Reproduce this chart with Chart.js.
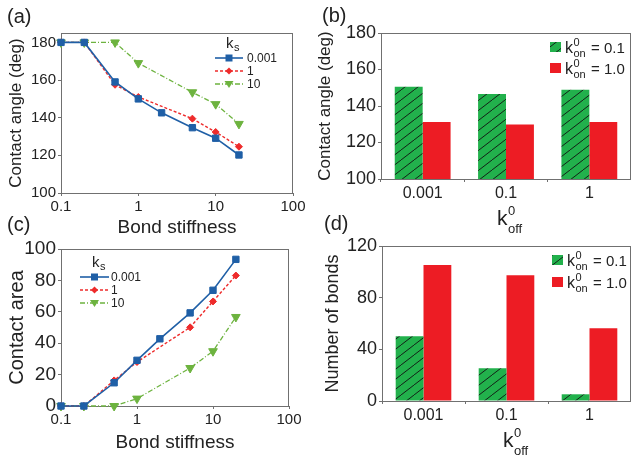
<!DOCTYPE html>
<html>
<head>
<meta charset="utf-8">
<script src="https://cdn.jsdelivr.net/npm/chart.js"></script>
<style>
  body { margin: 0; background: #fff; width: 631px; height: 457px; position: relative; overflow: hidden; }
  .panel { position: absolute; }
</style>
</head>
<body>
<div class="panel" style="left:0;top:0;width:310px;height:240px"><canvas id="chartA"></canvas></div>
<div class="panel" style="left:310px;top:0;width:321px;height:240px"><canvas id="chartB"></canvas></div>
<div class="panel" style="left:0;top:215px;width:310px;height:242px"><canvas id="chartC"></canvas></div>
<div class="panel" style="left:310px;top:215px;width:321px;height:242px"><canvas id="chartD"></canvas></div>

<script>
// ---- data ----
const stiffness = [0.1, 0.2, 0.5, 1, 2, 5, 10, 20];
const stiffnessKs1 = [0.1, 0.2, 0.5, 1, 5, 10, 20];
const stiffnessKs10 = [0.1, 0.2, 0.5, 1, 5, 10, 20];
const ksLabels = ['0.001', '1', '10'];

const angleKs0001 = [180, 180, 159, 150, 142.6, 134.7, 129.1, 120.2];
const angleKs1 = [180, 180, 157.5, 151, 139.5, 132.4, 124.6];
const angleKs10 = [180, 180, 180, 169, 153.5, 147.2, 136.7];

const areaKs0001 = [0, 0, 14.8, 29.1, 42.8, 59.3, 73.7, 93.4];
const areaKs1 = [0, 0, 16.3, 28, 50.1, 66.6, 83.1];
const areaKs10 = [0, 0, 0, 4.7, 24.2, 34.9, 56.7];

const koff = ['0.001', '0.1', '1'];
const konLabels = ['0.1', '1.0'];
const angleKon01 = [150.6, 146.6, 148.9];
const angleKon10 = [131.2, 129.8, 131.2];
const bondsKon01 = [50.1, 25.3, 5.2];
const bondsKon10 = [105.3, 97.3, 56.3];

// ---- styles ----
const FONT = '"Liberation Sans", Arial, sans-serif';
const TEXT = '#222';
const FRAME = '#707070';
const BAR_GREEN = '#22b14c';
const BAR_RED = '#ed1c24';
const ksStyle = [
  { color: '#1f5fa6', dash: [], point: 'rect', r: 4.5, rot: 0, w: 1.6 },
  { color: '#ee2b2b', dash: [3, 2], point: 'rectRot', r: 3.5, rot: 0, w: 1.4 },
  { color: '#6db33f', dash: [5, 2, 1, 2], point: 'triangle', r: 5, rot: 180, w: 1.3 }
];

// hatched green fill
const pc = document.createElement('canvas');
pc.width = 13; pc.height = 10;
const pctx = pc.getContext('2d');
pctx.fillStyle = BAR_GREEN;
pctx.fillRect(0, 0, 13, 10);
pctx.strokeStyle = '#111';
pctx.lineWidth = 0.9;
pctx.beginPath();
pctx.moveTo(0, 10); pctx.lineTo(13, 0);
pctx.moveTo(-13, 10); pctx.lineTo(0, 0);
pctx.moveTo(13, 10); pctx.lineTo(26, 0);
pctx.stroke();
const hatch = pctx.createPattern(pc, 'repeat');

// ---- helpers ----
function lineSet(label, xs, ys, st) {
  return {
    label: label,
    data: xs.map((x, i) => ({ x: x, y: ys[i] })),
    borderColor: st.color, backgroundColor: st.color,
    pointBorderColor: st.color, pointBackgroundColor: st.color,
    borderWidth: st.w, borderDash: st.dash,
    pointStyle: st.point, pointRadius: st.r, pointRotation: st.rot, pointBorderWidth: 1,
    tension: 0, clip: false
  };
}

function axis(size) {
  return {
    border: { display: false },
    grid: { display: true, drawOnChartArea: false, drawTicks: true, tickLength: 3, color: FRAME },
    ticks: { color: TEXT, font: { family: FONT, size: size }, padding: 2 }
  };
}

function fixTicks(vals) {
  return s => { s.ticks = vals.map(v => ({ value: v })); };
}

const frame = {
  id: 'frame',
  beforeDatasetsDraw(c) {
    const { ctx, chartArea: a } = c;
    ctx.save();
    ctx.strokeStyle = FRAME;
    ctx.lineWidth = 1;
    ctx.strokeRect(Math.round(a.left) + 0.5, Math.round(a.top) + 0.5,
      Math.round(a.right - a.left) - 1, Math.round(a.bottom - a.top));
    ctx.restore();
  }
};

// "k" with sub- and superscript, returns the end x
function drawK(ctx, x, y, size, sub, sup, subSize, subOff, supOff) {
  ctx.fillStyle = TEXT;
  ctx.textAlign = 'left';
  ctx.textBaseline = 'alphabetic';
  ctx.font = size + 'px ' + FONT;
  ctx.fillText('k', x, y);
  const e = x + ctx.measureText('k').width + 0.5;
  ctx.font = subSize + 'px ' + FONT;
  let end = e;
  if (sup) { ctx.fillText(sup, e, y - size * supOff); end = Math.max(end, e + ctx.measureText(sup).width); }
  if (sub) { ctx.fillText(sub, e, y + size * subOff); end = Math.max(end, e + ctx.measureText(sub).width); }
  return end;
}

function marker(ctx, x, y, st) {
  ctx.save();
  ctx.fillStyle = st.color;
  ctx.beginPath();
  if (st.point === 'rect') {
    ctx.rect(x - 3.5, y - 3.5, 7, 7);
  } else if (st.point === 'rectRot') {
    ctx.moveTo(x, y - 3.5); ctx.lineTo(x + 3.5, y); ctx.lineTo(x, y + 3.5); ctx.lineTo(x - 3.5, y);
  } else {
    ctx.moveTo(x - 4.5, y - 3); ctx.lineTo(x + 4.5, y - 3); ctx.lineTo(x, y + 4);
  }
  ctx.closePath();
  ctx.fill();
  ctx.restore();
}

function panelLabel(ctx, text, x, y) {
  ctx.fillStyle = TEXT;
  ctx.font = '20px ' + FONT;
  ctx.textAlign = 'left';
  ctx.textBaseline = 'middle';
  ctx.fillText(text, x, y);
}

function lineLegend(ctx, o) {
  drawK(ctx, o.kx, o.ky, 15, 's', null, 11, 0.22, 0);
  ksLabels.forEach((lab, i) => {
    const st = ksStyle[i];
    const y = o.rows[i];
    ctx.save();
    ctx.strokeStyle = st.color;
    ctx.lineWidth = st.w;
    ctx.setLineDash(st.dash);
    ctx.beginPath(); ctx.moveTo(o.x1, y); ctx.lineTo(o.x2, y); ctx.stroke();
    ctx.restore();
    marker(ctx, (o.x1 + o.x2) / 2, y, st);
    ctx.fillStyle = TEXT;
    ctx.font = '12px ' + FONT;
    ctx.textAlign = 'left';
    ctx.textBaseline = 'middle';
    ctx.fillText(lab, o.tx, y + 1);
  });
}

function barLegend(ctx, o) {
  konLabels.forEach((lab, i) => {
    const y = o.rows[i];
    ctx.fillStyle = i === 0 ? hatch : BAR_RED;
    ctx.fillRect(o.sx, y - 5, 11, 10);
    drawK(ctx, o.kx, y + 6, 16, 'on', '0', 11, 0.25, 0.45);
    ctx.fillStyle = TEXT;
    ctx.font = '15px ' + FONT;
    ctx.textBaseline = 'alphabetic';
    ctx.fillText('= ' + lab, o.tx, y + 6);
  });
}

function annot(ox, oy, draw) {
  return {
    id: 'annot',
    afterDraw(c) {
      const ctx = c.ctx;
      ctx.save();
      ctx.translate(-ox, -oy);
      draw(ctx);
      ctx.restore();
    }
  };
}

function lineChart(id, ox, oy, sets, yOpt, pad, xH, yW, xTitle, yTitle, draw) {
  const xs = Object.assign(axis(15), {
    type: 'logarithmic', min: 0.1, max: 100,
    afterBuildTicks: fixTicks([0.1, 1, 10, 100]),
    afterFit: s => { s.height = xH; },
    title: { display: true, text: 'Bond stiffness', color: TEXT, font: { family: FONT, size: 19 }, padding: xTitle }
  });
  xs.ticks.callback = v => String(v);
  const ys = Object.assign(axis(yOpt.tick), {
    min: yOpt.min, max: yOpt.max,
    afterBuildTicks: fixTicks(yOpt.ticks),
    afterFit: s => { s.width = yW; },
    title: { display: true, text: yOpt.title, color: TEXT, font: { family: FONT, size: yOpt.titleSize }, padding: yTitle }
  });
  return new Chart(document.getElementById(id), {
    type: 'line',
    data: { datasets: sets },
    options: {
      responsive: true, maintainAspectRatio: false, animation: false,
      layout: { padding: pad },
      plugins: { legend: { display: false }, tooltip: { enabled: false } },
      scales: { x: xs, y: ys }
    },
    plugins: [frame, annot(ox, oy, draw)]
  });
}

function barChart(id, ox, oy, v01, v10, yOpt, pad, xH, yW, draw) {
  const xs = Object.assign(axis(16), {
    type: 'category',
    afterFit: s => { s.height = xH; }
  });
  xs.grid.offset = true;
  const ys = Object.assign(axis(18), {
    min: yOpt.min, max: yOpt.max,
    afterBuildTicks: fixTicks(yOpt.ticks),
    afterFit: s => { s.width = yW; },
    title: { display: true, text: yOpt.title, color: TEXT, font: { family: FONT, size: yOpt.titleSize }, padding: yOpt.titlePad }
  });
  return new Chart(document.getElementById(id), {
    type: 'bar',
    data: {
      labels: koff,
      datasets: [
        { label: 'kon 0.1', data: v01, backgroundColor: hatch, borderWidth: 0, categoryPercentage: 0.67, barPercentage: 1 },
        { label: 'kon 1.0', data: v10, backgroundColor: BAR_RED, borderWidth: 0, categoryPercentage: 0.67, barPercentage: 1 }
      ]
    },
    options: {
      responsive: true, maintainAspectRatio: false, animation: false,
      layout: { padding: pad },
      plugins: { legend: { display: false }, tooltip: { enabled: false } },
      scales: { x: xs, y: ys }
    },
    plugins: [frame, annot(ox, oy, draw)]
  });
}

// ---- (a) contact angle vs stiffness ----
lineChart('chartA', 0, 0, [
    lineSet(ksLabels[0], stiffness, angleKs0001, ksStyle[0]),
    lineSet(ksLabels[1], stiffnessKs1, angleKs1, ksStyle[1]),
    lineSet(ksLabels[2], stiffnessKs10, angleKs10, ksStyle[2])
  ],
  { min: 100, max: 185, ticks: [100, 120, 140, 160, 180], tick: 15, title: 'Contact angle (deg)', titleSize: 17 },
  { left: 0, top: 33, right: 17, bottom: 0 }, 47, 61,
  { top: 0, bottom: 1 }, { top: 6, bottom: 0 },
  ctx => {
    panelLabel(ctx, '(a)', 7, 17);
    lineLegend(ctx, { kx: 226, ky: 48, x1: 215, x2: 243, tx: 247, rows: [58, 71, 84] });
  });

// ---- (c) contact area vs stiffness ----
lineChart('chartC', 0, 215, [
    lineSet(ksLabels[0], stiffness, areaKs0001, ksStyle[0]),
    lineSet(ksLabels[1], stiffnessKs1, areaKs1, ksStyle[1]),
    lineSet(ksLabels[2], stiffnessKs10, areaKs10, ksStyle[2])
  ],
  { min: 0, max: 100, ticks: [0, 20, 40, 60, 80, 100], tick: 19, title: 'Contact area', titleSize: 20 },
  { left: 0, top: 34, right: 21, bottom: 0 }, 51, 61,
  { top: 0, bottom: 3 }, { top: 5, bottom: 0 },
  ctx => {
    panelLabel(ctx, '(c)', 7, 225);
    lineLegend(ctx, { kx: 92, ky: 267, x1: 80, x2: 109, tx: 111, rows: [277, 290, 303] });
  });

// ---- (b) contact angle vs koff ----
barChart('chartB', 310, 0, angleKon01, angleKon10,
  { min: 100, max: 180, ticks: [100, 120, 140, 160, 180], title: 'Contact angle (deg)', titleSize: 17, titlePad: { top: 5, bottom: 0 } },
  { left: 0, top: 33, right: 0, bottom: 0 }, 61, 71,
  ctx => {
    panelLabel(ctx, '(b)', 322, 16);
    barLegend(ctx, { sx: 550, kx: 565, tx: 591, rows: [47, 68] });
    drawK(ctx, 497, 225, 21, 'off', '0', 13, 0.38, 0.48);
  });

// ---- (d) number of bonds vs koff ----
barChart('chartD', 310, 215, bondsKon01, bondsKon10,
  { min: 0, max: 120, ticks: [0, 40, 80, 120], title: 'Number of bonds', titleSize: 18, titlePad: { top: 12, bottom: 0 } },
  { left: 0, top: 31, right: 0, bottom: 0 }, 56, 72,
  ctx => {
    panelLabel(ctx, '(d)', 324, 224);
    barLegend(ctx, { sx: 552, kx: 567, tx: 593, rows: [260, 282] });
    drawK(ctx, 503, 447, 21, 'off', '0', 13, 0.38, 0.48);
  });
</script>
</body>
</html>
